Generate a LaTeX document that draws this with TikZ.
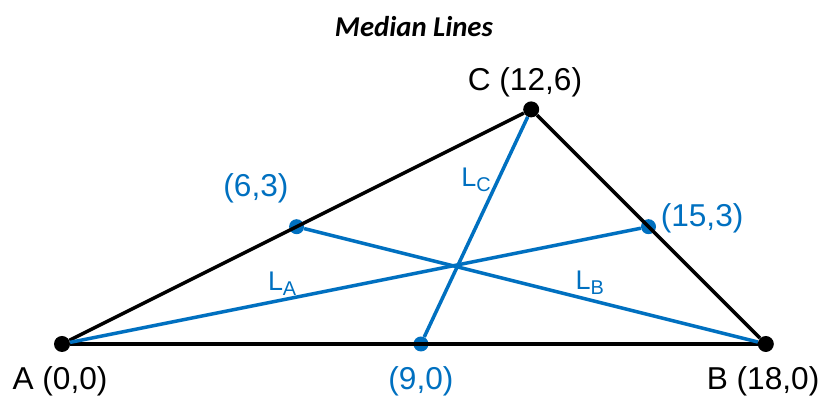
\documentclass[tikz,border=0pt]{standalone}
\usepackage{fontspec}
\setmainfont{Liberation Sans}
\newfontfamily\titlefont{Carlito}
\usetikzlibrary{positioning}
\definecolor{medblue}{HTML}{0070C0}
\newcommand{\lsub}[1]{L\raisebox{-0.35ex}{\fontsize{17}{17}\selectfont #1}}

\begin{document}
\begin{tikzpicture}[x=1.173cm, y=1.173cm,
    every node/.style={font=\fontsize{27}{27}\selectfont},
    vtx/.style={circle, fill=black, inner sep=0pt, minimum size=0.48cm},
    mid/.style={circle, fill=medblue, inner sep=0pt, minimum size=0.45cm},
    side/.style={line width=3pt, black},
    med/.style={line width=3pt, medblue},
    lbl/.style={text=medblue}]
  \useasboundingbox (-1.586,-1.432) rectangle (19.463,8.798);
  % vertices and midpoints
  \node[vtx] (A) at (0,0) {};
  \node[vtx] (B) at (18,0) {};
  \node[vtx] (C) at (12,6) {};
  \node[mid] (mAC) at (6,3) {};
  \node[mid] (mBC) at (15,3) {};
  \node[mid] (mAB) at (9.18,0) {};
  % triangle
  \draw[side] (A) -- (B);
  \draw[side] (B) -- (C);
  \draw[side] (C) -- (A);
  % medians
  \draw[med] (A) -- (mBC);
  \draw[med] (B) -- (mAC);
  \draw[med] (C) -- (mAB);
  % labels
  \node (title) at (9.0,8.11) {\titlefont\fontsize{24.5}{24.5}\selectfont\bfseries\itshape Median Lines};
  \node (lC) at (11.84,6.70) {C (12,6)};
  \node (lA) at (-0.05,-0.95) {A (0,0)};
  \node (lB) at (17.93,-0.95) {B (18,0)};
  \node[lbl] (lAC) at (4.96,3.99) {(6,3)};
  \node[lbl] (lBC) at (16.37,3.22) {(15,3)};
  \node[lbl] (lAB) at (9.18,-0.95) {(9,0)};
  \node[lbl, font=\fontsize{23}{23}\selectfont] (nC) at (10.59,4.19) {\lsub{C}};
  \node[lbl, font=\fontsize{23}{23}\selectfont] (nA) at (5.63,1.53) {\lsub{A}};
  \node[lbl, font=\fontsize{23}{23}\selectfont] (nB) at (13.50,1.56) {\lsub{B}};
\end{tikzpicture}
\end{document}
